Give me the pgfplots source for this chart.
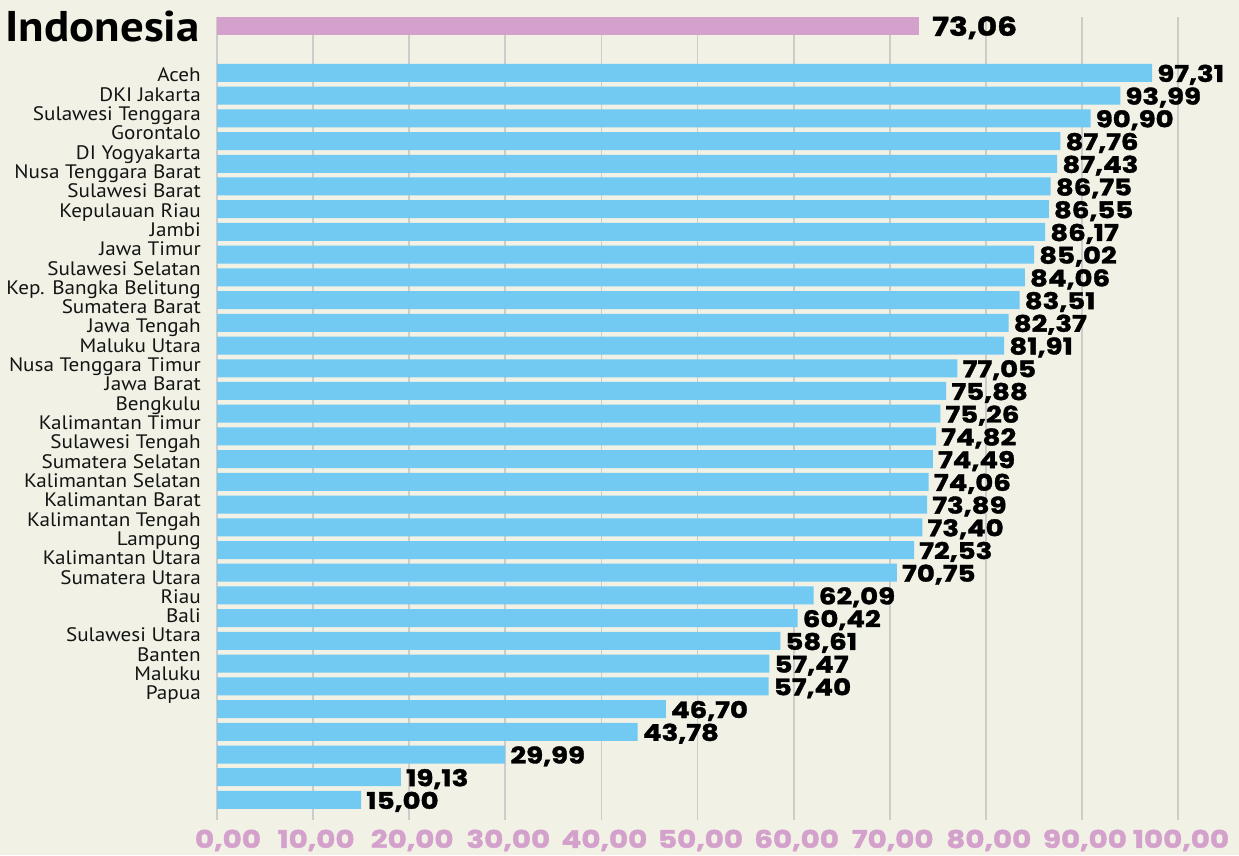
\documentclass[border=0pt]{standalone}
\usepackage{pgfplots}
\pgfplotsset{compat=1.18}
\usepackage{fontspec}
\setmainfont{PT Sans}
\newfontfamily\labfont{PT Sans}[FakeStretch=1.085]
\newfontfamily\titfont{PT Sans}[BoldFeatures={FakeStretch=1.09}]
\newfontfamily\numfont{Poppins}[BoldFeatures={FakeBold=1.5,FakeStretch=1.2}]
\definecolor{bg}{HTML}{F1F2E5}
\definecolor{barblue}{HTML}{72CAF2}
\definecolor{pinkc}{HTML}{D4A0CC}
\definecolor{gridc}{HTML}{CCCCCC}
\definecolor{txt}{HTML}{141414}
\begin{document}
\begin{tikzpicture}
\fill[bg] (0,0) rectangle (1239pt,855pt);
\begin{axis}[
  at={(217pt,838pt)}, anchor=north west,
  x=9.61pt, y=22.72pt, y dir=reverse,
  xmin=0, xmax=100, ymin=-2.46, ymax=32.88,
  clip=false,
  axis line style={draw=none},
  xbar, bar width=18pt, bar shift=0pt,
  xtick={0,10,20,30,40,50,60,70,80,90,100},
  xticklabels={{\kern16pt 0,00},{10,00},{20,00},{30,00},{40,00},{50,00},{60,00},{70,00},{80,00},{90,00},{100,00}},
  xmajorgrids, major grid style={draw=gridc, line width=1.8pt},
  major tick length=0pt,
  xticklabel style={anchor=base, inner sep=0pt, xshift=3pt, yshift=-28pt, text=pinkc, font=\fontsize{24.5}{24.5}\selectfont\numfont\bfseries},
  ytick={0.044,0.894,1.744,2.594,3.444,4.294,5.144,5.994,6.844,7.694,8.544,9.394,10.244,11.094,11.944,12.794,13.644,14.494,15.344,16.194,17.044,17.894,18.744,19.594,20.444,21.294,22.144,22.994,23.844,24.694,25.544,26.394,27.244},
  yticklabels={Aceh,DKI Jakarta,Sulawesi Tenggara,Gorontalo,DI Yogyakarta,Nusa Tenggara Barat,Sulawesi Barat,Kepulauan Riau,Jambi,Jawa Timur,Sulawesi Selatan,Kep. Bangka Belitung,Sumatera Barat,Jawa Tengah,Maluku Utara,Nusa Tenggara Timur,Jawa Barat,Bengkulu,Kalimantan Timur,Sulawesi Tengah,Sumatera Selatan,Kalimantan Selatan,Kalimantan Barat,Kalimantan Tengah,Lampung,Kalimantan Utara,Sumatera Utara,Riau,Bali,Sulawesi Utara,Banten,Maluku,Papua},
  yticklabel style={anchor=base east, inner sep=0pt, xshift=-16pt, yshift=-8pt, text=txt, font=\fontsize{19.5}{20}\selectfont\labfont},
  point meta=x,
  nodes near coords={\pgfmathprintnumber[fixed,fixed zerofill,precision=2,use comma,assume math mode=true]{\pgfplotspointmeta}},
  nodes near coords style={anchor=base west, inner sep=0pt, xshift=5pt, yshift=-9pt, text=black, font=\fontsize{23}{23}\selectfont\numfont\bfseries},
]
\addplot[fill=pinkc, draw=none, bar shift=0pt, nodes near coords style={xshift=8pt, yshift=-0.5pt, font=\fontsize{26}{26}\selectfont\numfont\bfseries}] coordinates {(73.06,-2.05)};
\addplot[fill=barblue, draw=none, bar shift=0pt] coordinates {
(97.31,0) (93.99,1) (90.90,2) (87.76,3) (87.43,4) (86.75,5) (86.55,6) (86.17,7)
(85.02,8) (84.06,9) (83.51,10) (82.37,11) (81.91,12) (77.05,13) (75.88,14) (75.26,15)
(74.82,16) (74.49,17) (74.06,18) (73.89,19) (73.40,20) (72.53,21) (70.75,22) (62.09,23)
(60.42,24) (58.61,25) (57.47,26) (57.40,27) (46.70,28) (43.78,29) (29.99,30) (19.13,31) (15.00,32)};
\node[anchor=base east, inner sep=0pt, xshift=-17pt, yshift=-15pt, text=black, font=\fontsize{43}{43}\selectfont\titfont\bfseries] at (axis cs:0,-2.05) {Indonesia};
\end{axis}
\pgfresetboundingbox
\path (0,0) rectangle (1239pt,855pt);
\end{tikzpicture}
\end{document}
